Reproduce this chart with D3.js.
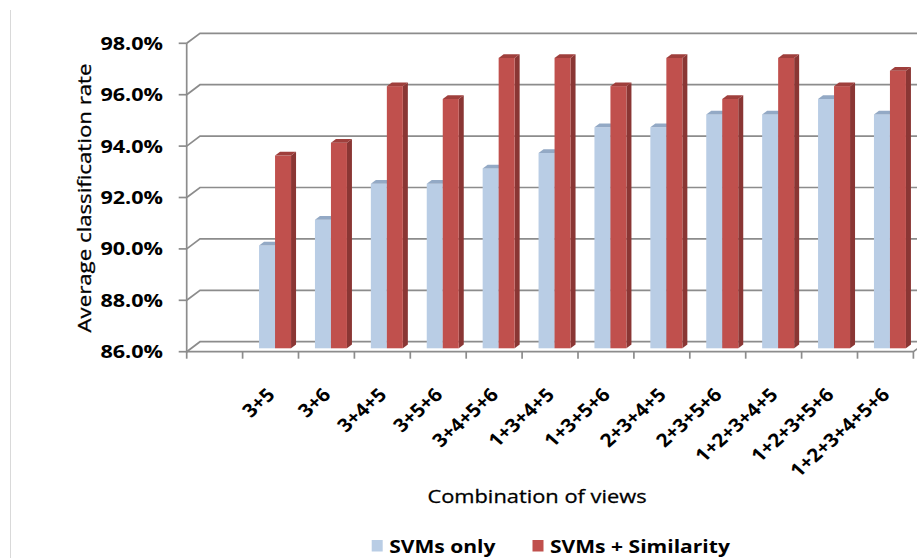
<!DOCTYPE html>
<html>
<head>
<meta charset="utf-8">
<script src="https://cdn.jsdelivr.net/npm/d3@7"></script>
<style>
  html, body { margin: 0; padding: 0; background: #fff; }
  svg { display: block; }
  text { font-family: "Open Sans", "DejaVu Sans", sans-serif; fill: #000; }
</style>
</head>
<body>
<script>
// ---- data ----
const categories = ["3+5", "3+6", "3+4+5", "3+5+6", "3+4+5+6", "1+3+4+5", "1+3+5+6",
                    "2+3+4+5", "2+3+5+6", "1+2+3+4+5", "1+2+3+5+6", "1+2+3+4+5+6"];
const seriesNames = ["SVMs only", "SVMs + Similarity"];
const svmsOnly = [90.0, 91.0, 92.4, 92.4, 93.0, 93.6, 94.6, 94.6, 95.1, 95.1, 95.7, 95.1];
const svmsSimilarity = [93.5, 94.0, 96.2, 95.7, 97.3, 97.3, 96.2, 97.3, 95.7, 97.3, 96.2, 96.8];
const yTicks = [86, 88, 90, 92, 94, 96, 98];
const yLabel = "Average classification rate";
const xLabel = "Combination of views";

// ---- layout ----
const W = 917, H = 558;
const X0 = 186.7;             // front-left corner of plot
const STEP = 55.9;            // category slot width
const DEPTH_DX = 13.3, DEPTH_DY = -10;   // back wall offset
const BAR_DX = 4.5, BAR_DY = -3.4;       // bar row depth offset
const TOP_DX = 5, TOP_DY = -3.7;         // bar own depth

const colors = {
  front: ["#b9cde5", "#c0504d"],
  top:   ["#93a9c5", "#9f3f3c"],
  side:  ["#8fa5c0", "#8a3634"]
};

const svg = d3.select("body").append("svg")
  .attr("width", W).attr("height", H);
svg.append("rect").attr("width", W).attr("height", H).attr("fill", "#fff");

// faint left border line
svg.append("line").attr("x1", 10.5).attr("x2", 10.5).attr("y1", 10).attr("y2", H)
  .attr("stroke", "#d9d9d9").attr("stroke-width", 1);

const x = d3.scaleBand().domain(categories)
  .range([X0 + STEP, X0 + STEP * (categories.length + 1)]).padding(0);
const xSub = d3.scaleBand().domain(seriesNames)
  .range([0, x.bandwidth()]).paddingInner(0).paddingOuter(0.747);
const y = d3.scaleLinear().domain([86, 98]).range([351.7, 43.3]);

const gridColor = "#8c8c8c";
const grid = svg.append("g").attr("fill", "none").attr("stroke", gridColor).attr("stroke-width", 1.7);

// back-wall gridlines with depth diagonals
yTicks.forEach(t => {
  grid.append("path").attr("d",
    `M${X0},${y(t)} L${X0 + DEPTH_DX},${y(t) + DEPTH_DY} L${W + 2},${y(t) + DEPTH_DY}`);
  grid.append("line").attr("x1", X0 - 8).attr("x2", X0).attr("y1", y(t)).attr("y2", y(t));
});
// vertical axis
grid.append("line").attr("x1", X0).attr("x2", X0).attr("y1", y(98)).attr("y2", y(86) + 0.8);
// front horizontal axis
const xEnd = x.range()[1];
grid.append("path").attr("d",
  `M${X0},${y(86)} L${xEnd},${y(86)} L${xEnd + DEPTH_DX},${y(86) + DEPTH_DY}`);
d3.range(categories.length + 2).forEach(k => {
  const xx = X0 + k * x.step();
  grid.append("line").attr("x1", xx).attr("x2", xx).attr("y1", y(86)).attr("y2", y(86) + 7);
});

// y tick labels
svg.append("g").selectAll("text").data(yTicks).join("text")
  .attr("transform", d => `translate(163,${y(d)}) scale(1.27,1)`)
  .attr("text-anchor", "end").attr("dominant-baseline", "central")
  .attr("font-size", 17).attr("font-weight", 700)
  .text(d => d3.format(".1f")(d) + "%");

// y axis title
svg.append("text")
  .attr("transform", `translate(84,198) rotate(-90) scale(1.27,1)`)
  .attr("text-anchor", "middle").attr("dominant-baseline", "central")
  .attr("font-size", 17.5).attr("stroke", "#000").attr("stroke-width", 0.3)
  .text(yLabel);

// bars
const seriesValues = [svmsOnly, svmsSimilarity];
const bars = svg.append("g");
categories.forEach((c, i) => {
  seriesNames.forEach((s, j) => {
    const v = seriesValues[j][i];
    const bx = x(c) + xSub(s) + BAR_DX;
    const bw = xSub.bandwidth();
    const yt = y(v) + BAR_DY, yb = y(86) + BAR_DY;
    bars.append("path").attr("fill", colors.side[j]).attr("d",
      `M${bx + bw},${yt} L${bx + bw + TOP_DX},${yt + TOP_DY} L${bx + bw + TOP_DX},${yb + TOP_DY} L${bx + bw},${yb} Z`);
    bars.append("rect").attr("x", bx).attr("y", yt).attr("width", bw).attr("height", yb - yt)
      .attr("fill", colors.front[j]);
    bars.append("path").attr("fill", colors.top[j]).attr("d",
      `M${bx},${yt} L${bx + bw},${yt} L${bx + bw + TOP_DX},${yt + TOP_DY} L${bx + TOP_DX},${yt + TOP_DY} Z`);
  });
});

// category labels (rotated, slightly stretched horizontally)
svg.append("g").selectAll("text").data(categories).join("text")
  .attr("transform", d => `translate(${x(d) + x.bandwidth() / 2 + BAR_DX + 1},396) scale(1.12,1) rotate(-45)`)
  .attr("text-anchor", "end")
  .attr("font-size", 18.5).attr("font-weight", 700)
  .text(d => d);

// x axis title
svg.append("text")
  .attr("transform", `translate(537,503) scale(1.15,1)`)
  .attr("text-anchor", "middle")
  .attr("font-size", 19).attr("stroke", "#000").attr("stroke-width", 0.3)
  .text(xLabel);

// legend
const legendX = [371.7, 532.5];
const legend = svg.append("g");
seriesNames.forEach((s, j) => {
  legend.append("rect").attr("x", legendX[j]).attr("y", 540).attr("width", 11).attr("height", 11.5)
    .attr("fill", colors.front[j]);
  legend.append("text")
    .attr("transform", `translate(${legendX[j] + 17.5},552.5) scale(1.17,1)`)
    .attr("font-size", 18).attr("font-weight", 700)
    .text(s);
});
</script>
</body>
</html>
